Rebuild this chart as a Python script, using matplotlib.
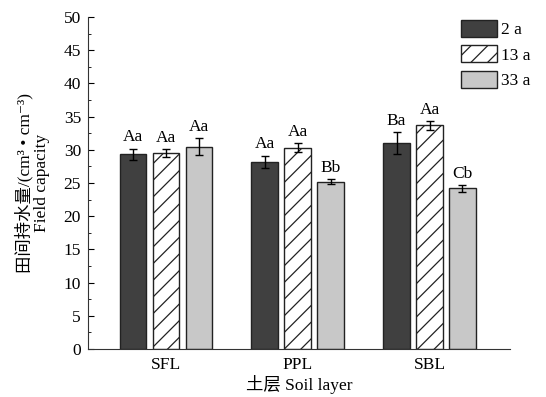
import matplotlib.pyplot as plt
import numpy as np
from matplotlib.ticker import MultipleLocator

plt.rcParams['font.family'] = ['Liberation Serif', 'Noto Sans CJK SC', 'DejaVu Sans']
plt.rcParams['hatch.linewidth'] = 0.9

layers = ["SFL", "PPL", "SBL"]
series = ["2 a", "13 a", "33 a"]
values = [
    [29.3, 28.2, 31.0],   # 2 a
    [29.5, 30.3, 33.7],   # 13 a
    [30.5, 25.2, 24.2],   # 33 a
]
errors = [
    [0.9, 0.9, 1.7],
    [0.55, 0.7, 0.65],
    [1.25, 0.35, 0.5],
]
letters = [
    ["Aa", "Aa", "Ba"],
    ["Aa", "Aa", "Aa"],
    ["Aa", "Bb", "Cb"],
]

colors = ["#404040", "white", "#c8c8c8"]
hatches = [None, "//", None]
fs = 12.5

fig = plt.figure(figsize=(5.46, 3.97), dpi=100)
ax = fig.add_axes([0.161, 0.121, 0.773, 0.836])

x = np.arange(len(layers))
width = 0.2
step = 0.25
for i in range(len(series)):
    pos = x + (i - 1) * step
    ax.bar(pos, values[i], width, color=colors[i], edgecolor="#222222",
           linewidth=1.0, hatch=hatches[i], label=series[i],
           yerr=errors[i], capsize=3,
           error_kw=dict(elinewidth=1.0, capthick=1.0, ecolor="black"))
    for p, v, e, t in zip(pos, values[i], errors[i], letters[i]):
        ax.text(p, v + e + 0.5, t, ha="center", va="bottom", fontsize=fs)

ax.set_xlim(-0.59, 2.61)
ax.set_ylim(0, 50)
ax.set_xticks(x)
ax.set_xticklabels(layers)
ax.yaxis.set_major_locator(MultipleLocator(5))
ax.yaxis.set_minor_locator(MultipleLocator(2.5))
ax.tick_params(axis="y", which="major", direction="in", length=4, labelsize=fs, pad=5)
ax.tick_params(axis="y", which="minor", direction="in", length=2)
ax.tick_params(axis="x", length=0, labelsize=fs, pad=6)
ax.spines["top"].set_visible(False)
ax.spines["right"].set_visible(False)
for s in ["left", "bottom"]:
    ax.spines[s].set_color("#333333")

ax.set_xlabel("土层 Soil layer", fontsize=fs, labelpad=1)
ax.set_ylabel("田间持水量/(cm³ • cm⁻³)\nField capacity", fontsize=fs,
              labelpad=10, linespacing=1.0)

ax.legend(loc="upper right", bbox_to_anchor=(0.985, 0.968),
          bbox_transform=fig.transFigure, frameon=False, fontsize=fs,
          handlelength=2.1, handleheight=1.15, labelspacing=0.4,
          handletextpad=0.25, borderaxespad=0)

fig.savefig("out.png", dpi=100)
